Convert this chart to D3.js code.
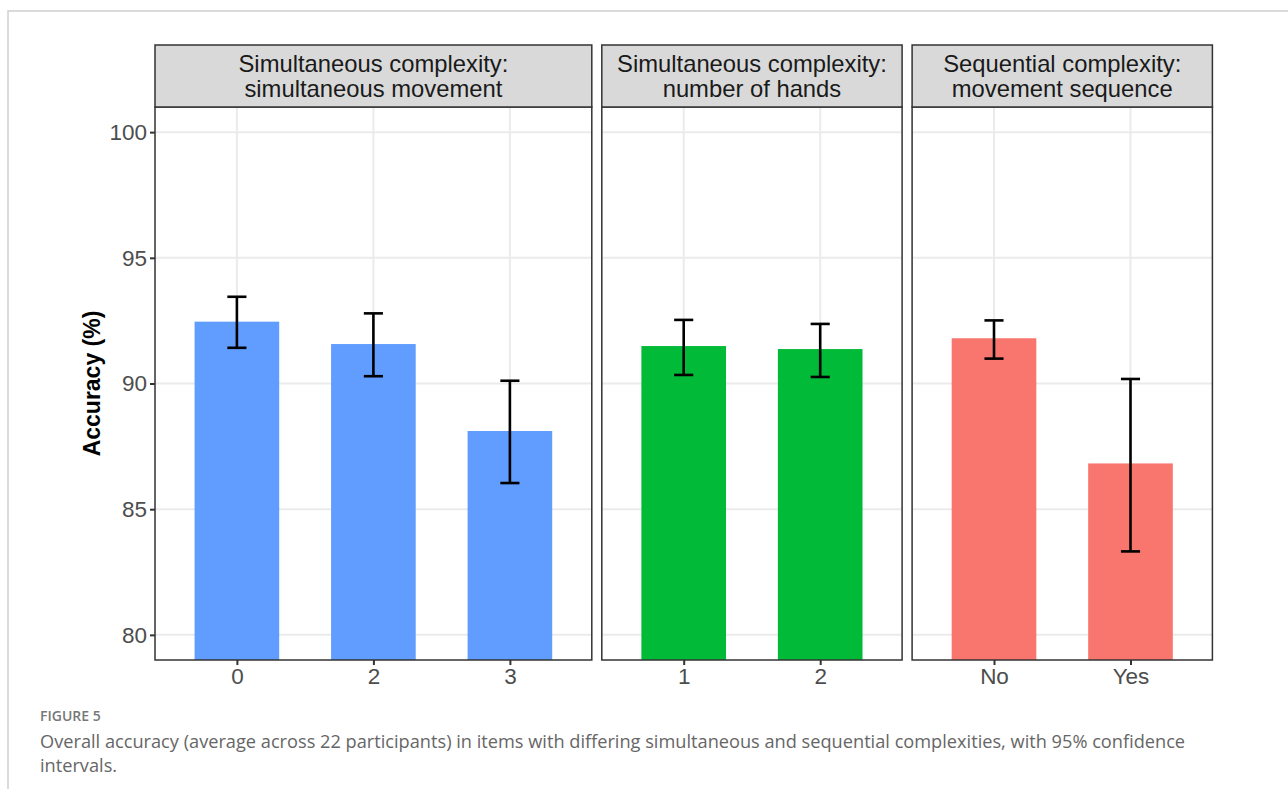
<!DOCTYPE html>
<html>
<head>
<meta charset="utf-8">
<script src="https://cdn.jsdelivr.net/npm/d3@7"></script>
<style>
  body { margin: 0; background: #fff; }
  svg { display: block; }
</style>
</head>
<body>
<div id="chart"></div>
<script>
// 패널별 데이터
const panelTitles = [
  ["Simultaneous complexity:", "simultaneous movement"],
  ["Simultaneous complexity:", "number of hands"],
  ["Sequential complexity:", "movement sequence"]
];
const panelColors = ["#619CFF", "#00BA38", "#F8766D"];

const simMoveCats = ["0", "2", "3"];
const simMoveMean = [92.46, 91.57, 88.11];
const simMoveLow  = [91.42, 90.29, 86.04];
const simMoveHigh = [93.45, 92.79, 90.11];

const handsCats = ["1", "2"];
const handsMean = [91.49, 91.37];
const handsLow  = [90.34, 90.26];
const handsHigh = [92.53, 92.37];

const seqCats = ["No", "Yes"];
const seqMean = [91.80, 86.82];
const seqLow  = [90.99, 83.32];
const seqHigh = [92.51, 90.18];

const yTicks = [80, 85, 90, 95, 100];

const panels = [
  { cats: simMoveCats, mean: simMoveMean, low: simMoveLow, high: simMoveHigh },
  { cats: handsCats, mean: handsMean, low: handsLow, high: handsHigh },
  { cats: seqCats, mean: seqMean, low: seqLow, high: seqHigh }
];

const W = 1288, H = 789;
const svg = d3.select('#chart').append('svg')
  .attr('width', W).attr('height', H);

// 바깥 테두리
svg.append('path')
  .attr('d', `M8,${H} L8,11 L${W},11`)
  .attr('fill', 'none')
  .attr('stroke', '#cfcfcf')
  .attr('stroke-width', 1.5);

const plotTop = 107, plotBottom = 660, stripTop = 45;
const unit = 136.5;          // 카테고리 한 칸 폭
const gap = 10;
const leftX = 155;

const y = d3.scaleLinear().domain([79, 101]).range([plotBottom, plotTop]);

const font = '"Liberation Sans", Arial, sans-serif';

let x0 = leftX;
panels.forEach((p, pi) => {
  const pw = unit * (p.cats.length - 1 + 1.2);
  const x = d3.scalePoint().domain(p.cats).range([x0 + 0.6 * unit, x0 + pw - 0.6 * unit]);
  const g = svg.append('g');

  // 그리드
  yTicks.forEach(t => {
    g.append('line')
      .attr('x1', x0).attr('x2', x0 + pw)
      .attr('y1', y(t)).attr('y2', y(t))
      .attr('stroke', '#EBEBEB').attr('stroke-width', 2);
  });
  p.cats.forEach(c => {
    g.append('line')
      .attr('x1', x(c)).attr('x2', x(c))
      .attr('y1', plotTop).attr('y2', plotBottom)
      .attr('stroke', '#EBEBEB').attr('stroke-width', 2);
  });

  // 막대
  const bw = 0.62 * unit;
  p.cats.forEach((c, i) => {
    g.append('rect')
      .attr('x', x(c) - bw / 2)
      .attr('y', y(p.mean[i]))
      .attr('width', bw)
      .attr('height', plotBottom - y(p.mean[i]))
      .attr('fill', panelColors[pi]);
  });

  // 오차 막대
  const cw = 0.14 * unit;
  p.cats.forEach((c, i) => {
    const eb = g.append('g').attr('stroke', '#000').attr('stroke-width', 2.6);
    eb.append('line').attr('x1', x(c)).attr('x2', x(c))
      .attr('y1', y(p.high[i])).attr('y2', y(p.low[i]));
    eb.append('line').attr('x1', x(c) - cw / 2).attr('x2', x(c) + cw / 2)
      .attr('y1', y(p.high[i])).attr('y2', y(p.high[i]));
    eb.append('line').attr('x1', x(c) - cw / 2).attr('x2', x(c) + cw / 2)
      .attr('y1', y(p.low[i])).attr('y2', y(p.low[i]));
  });

  // 패널 테두리
  g.append('rect')
    .attr('x', x0).attr('y', plotTop)
    .attr('width', pw).attr('height', plotBottom - plotTop)
    .attr('fill', 'none').attr('stroke', '#333').attr('stroke-width', 1.5);

  // 스트립
  g.append('rect')
    .attr('x', x0).attr('y', stripTop)
    .attr('width', pw).attr('height', plotTop - stripTop)
    .attr('fill', '#D9D9D9').attr('stroke', '#333').attr('stroke-width', 1.5);
  panelTitles[pi].forEach((line, li) => {
    g.append('text')
      .attr('x', x0 + pw / 2)
      .attr('y', stripTop + 27 + li * 25)
      .attr('text-anchor', 'middle')
      .attr('font-family', font)
      .attr('font-size', '23.8px')
      .attr('fill', '#1A1A1A')
      .text(line);
  });

  // x축
  const xAxis = g.append('g')
    .attr('transform', `translate(0,${plotBottom})`)
    .call(d3.axisBottom(x).tickSize(5).tickPadding(3));
  xAxis.select('.domain').remove();
  xAxis.selectAll('line').attr('stroke', '#333').attr('stroke-width', 2);
  xAxis.selectAll('text')
    .attr('font-family', font).attr('font-size', '22.5px').attr('fill', '#4D4D4D');

  x0 += pw + gap;
});

// y축
const yAxis = svg.append('g')
  .attr('transform', `translate(${leftX},0)`)
  .call(d3.axisLeft(y).tickValues(yTicks).tickSize(5).tickPadding(3));
yAxis.select('.domain').remove();
yAxis.selectAll('line').attr('stroke', '#333').attr('stroke-width', 2);
yAxis.selectAll('text')
  .attr('font-family', font).attr('font-size', '22.5px').attr('fill', '#4D4D4D');

svg.append('text')
  .attr('transform', `translate(100,${(plotTop + plotBottom) / 2}) rotate(-90)`)
  .attr('text-anchor', 'middle')
  .attr('font-family', font)
  .attr('font-size', '23px')
  .attr('font-weight', 'bold')
  .attr('fill', '#000')
  .text('Accuracy (%)');

// 캡션
svg.append('text')
  .attr('x', 40).attr('y', 721)
  .attr('font-family', '"Open Sans", sans-serif')
  .attr('font-size', '14px')
  .attr('font-weight', 600)
  .attr('fill', '#777')
  .text('FIGURE 5');
const caption = [
  'Overall accuracy (average across 22 participants) in items with differing simultaneous and sequential complexities, with 95% confidence',
  'intervals.'
];
caption.forEach((line, i) => {
  svg.append('text')
    .attr('x', 40).attr('y', 748 + i * 24)
    .attr('font-family', '"Open Sans", sans-serif')
    .attr('font-size', '18.2px')
    .attr('fill', '#666')
    .text(line);
});
</script>
</body>
</html>
